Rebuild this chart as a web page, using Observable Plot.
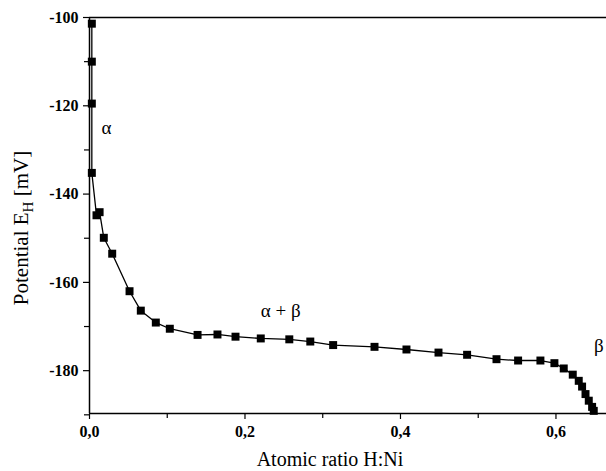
<!DOCTYPE html>
<html>
<head>
<meta charset="utf-8">
<script src="https://cdn.jsdelivr.net/npm/d3@7"></script>
<script src="https://cdn.jsdelivr.net/npm/@observablehq/plot@0.6"></script>
<style>
  html, body { margin: 0; padding: 0; background: #fff; }
  #chart svg { display: block; }
  #chart svg text { font-family: 'Liberation Serif', 'DejaVu Serif', serif !important; }
</style>
</head>
<body>
<div id="chart"></div>
<script>
// Atomic ratio H:Ni
const ratio = [0.003, 0.003, 0.003, 0.003, 0.009, 0.013, 0.0184, 0.0292, 0.0515, 0.066, 0.0853, 0.1033,
  0.139, 0.1646, 0.1878, 0.2203, 0.257, 0.284, 0.3134, 0.3666, 0.4077, 0.4489, 0.4857, 0.5235,
  0.5513, 0.58, 0.598, 0.61, 0.6216, 0.6293, 0.6336, 0.638, 0.6422, 0.6465, 0.6486];
// Potential E_H [mV]
const potential = [-101.4, -110, -119.5, -135.2, -144.8, -144.1, -149.9, -153.5, -162.0, -166.4, -169.1, -170.5,
  -171.9, -171.8, -172.3, -172.7, -172.9, -173.4, -174.2, -174.6, -175.2, -175.9, -176.4, -177.4,
  -177.7, -177.7, -178.3, -179.5, -180.9, -182.3, -183.6, -185.3, -186.8, -188.2, -189.1];

const xMajor = [0, 0.2, 0.4, 0.6];
const xMinor = [0.1, 0.3, 0.5];
const yMajor = [-180, -160, -140, -120, -100];
const yMinor = [-190, -170, -150, -130, -110];

const phaseLabels = ["α", "α + β", "β"];
const phaseX = [0.022, 0.246, 0.655];
const phaseY = [-125, -166.4, -174.4];

const xDomain = [0, 0.665];
const yDomain = [-189.7, -100];

const data = ratio.map((r, i) => ({r, p: potential[i]}));
const phases = phaseLabels.map((t, i) => ({t, x: phaseX[i], y: phaseY[i]}));

const serif = "'Liberation Serif', 'DejaVu Serif', serif";

const chart = Plot.plot({
  width: 606,
  height: 471,
  marginLeft: 89,
  marginRight: 0,
  marginTop: 17,
  marginBottom: 58,
  style: {fontFamily: serif, fontSize: "16px", background: "#fff", color: "#000", overflow: "visible"},
  x: {domain: xDomain},
  y: {domain: yDomain},
  marks: [
    Plot.axisX({ticks: xMajor, tickSize: 6, tickPadding: 6, tickFormat: d => d.toFixed(1).replace(".", ","),
      fontWeight: "bold", fontSize: 16, label: null, strokeWidth: 1.2}),
    Plot.axisX({ticks: xMinor, tickSize: 5, tickFormat: () => "", label: null, strokeWidth: 1.2}),
    Plot.axisY({ticks: yMajor, tickSize: 6, tickPadding: 5, tickFormat: d => String(d),
      fontWeight: "bold", fontSize: 16, label: null, strokeWidth: 1.2}),
    Plot.axisY({ticks: yMinor, tickSize: 5, tickFormat: () => "", label: null, strokeWidth: 1.2}),
    Plot.ruleX([0], {stroke: "#000", strokeWidth: 1.5}),
    Plot.ruleY([yDomain[0]], {stroke: "#000", strokeWidth: 1.5}),
    Plot.ruleY([yDomain[1]], {stroke: "#000", strokeWidth: 1.5}),
    Plot.line(data, {x: "r", y: "p", stroke: "#000", strokeWidth: 1.3}),
    Plot.dot(data, {x: "r", y: "p", symbol: "square", r: 4.5, fill: "#000", stroke: null}),
    Plot.text(phases, {x: "x", y: "y", text: "t", fontSize: 19, fill: "#000"})
  ]
});

const svg = d3.select(chart);
// Axis titles
svg.append("text")
  .attr("x", 330).attr("y", 466)
  .attr("text-anchor", "middle")
  .style("font-size", "20px").attr("fill", "#000")
  .text("Atomic ratio H:Ni");
const yl = svg.append("text")
  .attr("transform", "translate(28,228) rotate(-90)")
  .attr("text-anchor", "middle")
  .style("font-size", "21px").attr("fill", "#000");
yl.append("tspan").text("Potential E");
yl.append("tspan").attr("dy", 5).style("font-size", "15px").text("H");
yl.append("tspan").attr("dy", -5).text(" [mV]");

svg.selectAll("g").attr("font-family", serif);
svg.selectAll("text").attr("font-family", serif).style("font-family", serif);

document.getElementById("chart").appendChild(chart);
</script>
</body>
</html>
